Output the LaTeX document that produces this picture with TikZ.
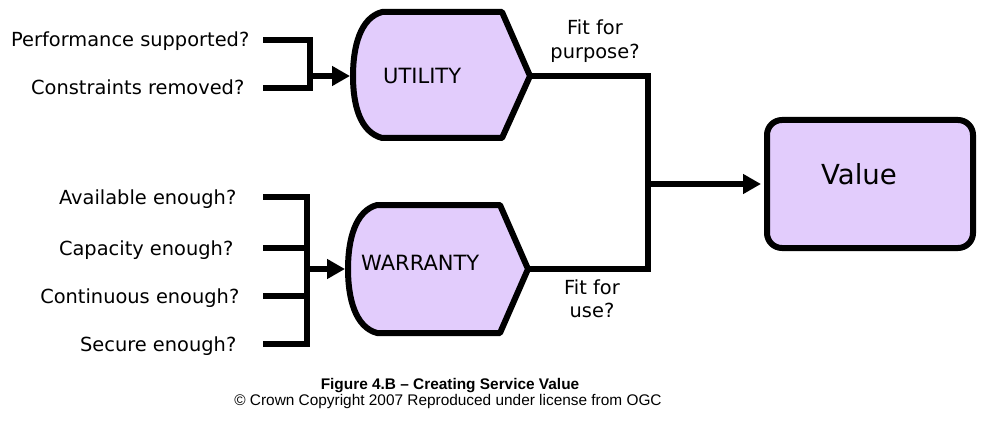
\documentclass[tikz,border=0pt]{standalone}
\usepackage{fontspec}
\setmainfont{DejaVu Sans}
\newfontfamily\capfont{Liberation Sans}
\usetikzlibrary{arrows.meta}
\definecolor{lilac}{RGB}{226,204,252}
\tikzset{
	question/.style={anchor=base east,inner sep=0pt,font=\fontsize{19.4}{23}\selectfont},
	fitlabel/.style={align=center,inner sep=0pt,font=\fontsize{19.4}{23.5}\selectfont},
	shapetext/.style={anchor=west,inner sep=0pt,font=\fontsize{21}{25}\selectfont},
	bar/.style={line width=6pt},
	bararrow/.style={line width=6pt,-{Triangle[length=18pt,width=19pt]},shorten >=3pt},
	outline/.style={line width=6pt,fill=lilac,line join=round},
	valuebox/.style={draw,line width=6pt,fill=lilac,rounded corners=15pt,minimum width=206pt,minimum height=128pt},
}
\begin{document}
\begin{tikzpicture}[x=1pt,y=-1pt]
		\useasboundingbox (0,0) rectangle (990,425);
		% questions on the left
		\node[question] (perf) at (249.5,47) {Performance supported?};
		\node[question] (constr) at (244.5,95) {Constraints removed?};
		\node[question] (avail) at (236.5,204) {Available enough?};
		\node[question] (capac) at (233.5,255) {Capacity enough?};
		\node[question] (contin) at (239.5,303) {Continuous enough?};
		\node[question] (secure) at (236.5,351) {Secure enough?};
		% utility shape
		\draw[outline] (382,12) -- (502,12) -- (530,76) coordinate (uout) -- (502,138) -- (382,138)
			.. controls (360,132) and (353,105) .. (353,76) coordinate (uin)
			.. controls (353,47) and (360,18) .. cycle;
		\node[shapetext] (utility) at (383,76) {UTILITY};
		% warranty shape
		\draw[outline] (377,205) -- (500,205) -- (528,269) coordinate (wout) -- (500,333) -- (377,333)
			.. controls (355,327) and (348,298) .. (348,269) coordinate (win)
			.. controls (348,240) and (355,211) .. cycle;
		\node[shapetext] (warranty) at (361,263) {WARRANTY};
		% brackets into the shapes
		\coordinate (ujoin) at (310,76);
		\draw[bar] (263,40) -- (310,40) -- (310,88) -- (263,88);
		\draw[bararrow] (ujoin) -- (uin);
		\coordinate (wjoin) at (307,269);
		\draw[bar] (263,197) -- (307,197) -- (307,344) -- (263,344);
		\draw[bar] (263,248) -- (307,248);
		\draw[bar] (263,296) -- (307,296);
		\draw[bararrow] (wjoin) -- (win);
		% value
		\node[valuebox] (value) at (870,184) {};
		\node[inner sep=0pt,font=\fontsize{27.6}{33}\selectfont] (valuetext) at (859,174) {Value};
		\coordinate (vjoin) at (648,184);
		\draw[bar] (uout) -- (648,76) -- (648,269) -- (wout);
		\draw[bararrow] (vjoin) -- (value.west);
		\node[fitlabel] (purpose) at (595,41) {Fit for\\purpose?};
		\node[fitlabel] (use) at (592,299) {Fit for\\use?};
		% caption
		\node[anchor=base,inner sep=0pt,font=\capfont\bfseries\fontsize{15.4}{18}\selectfont] (title) at (450,389) {Figure 4.B – Creating Service Value};
		\node[anchor=base,inner sep=0pt,font=\capfont\fontsize{15.4}{18}\selectfont] (credit) at (448,405) {© Crown Copyright 2007 Reproduced under license from OGC};
	\end{tikzpicture}
\end{document}
